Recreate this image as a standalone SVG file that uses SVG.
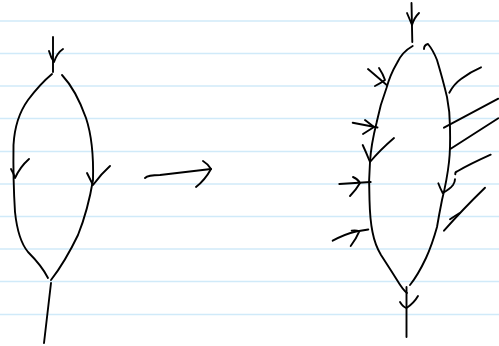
<svg xmlns="http://www.w3.org/2000/svg" width="499" height="346" viewBox="0 0 499 346">
<style>
.rule{stroke:#d0eaf9;stroke-width:1.7}
.ink{fill:none;stroke:#000;stroke-width:1.9;stroke-linecap:round;stroke-linejoin:round}
</style>
<rect width="499" height="346" fill="#fff"/>
<g id="paper">
<line class="rule" x1="0" y1="21" x2="499" y2="21"/>
<line class="rule" x1="0" y1="53.5" x2="499" y2="53.5"/>
<line class="rule" x1="0" y1="86" x2="499" y2="86"/>
<line class="rule" x1="0" y1="118.5" x2="499" y2="118.5"/>
<line class="rule" x1="0" y1="151.5" x2="499" y2="151.5"/>
<line class="rule" x1="0" y1="184" x2="499" y2="184"/>
<line class="rule" x1="0" y1="216.5" x2="499" y2="216.5"/>
<line class="rule" x1="0" y1="249" x2="499" y2="249"/>
<line class="rule" x1="0" y1="281.5" x2="499" y2="281.5"/>
<line class="rule" x1="0" y1="314.5" x2="499" y2="314.5"/>
</g>
<g id="left-figure" class="ink">
<path d="M53,37 L53,72"/>
<path d="M49,51 Q51,58 54,62 Q57,53 63,49"/>
<path d="M52,74 Q40,84 28,100 Q15,118 13.5,145 Q13,180 15,212 Q18,240 28,252 Q42,266 48,278"/>
<path d="M62,75 Q76,90 86,118 Q94,142 93,180 Q88,210 78,235 Q65,262 51,280"/>
<path d="M11,169 Q14,174 15,178 Q20,167 29,159"/>
<path d="M87,173 Q90,179 93,185 Q101,174 110,166"/>
<path d="M51,283 L44,343"/>
</g>
<g id="connectors" class="ink">
<path d="M145,178 Q148,175 160,175 L211,169"/>
<path d="M203,161 Q208,164 211,169 Q205,180 196,187"/>
</g>
<g id="right-figure" class="ink">
<path d="M411.5,3 L412.3,42"/>
<path d="M407,13 Q410,20 412,25 Q414,18 419,13"/>
<path d="M412.7,46 Q402,52 397,63 Q390,75 386.5,88 Q380,105 376.5,123 Q371,145 370,162 Q368.5,180 369.5,200 Q370,220 372.5,232 Q375,245 381,255 Q392,272 397,280 Q403,290 407,293"/>
<path d="M424,49 Q424,45 428,44 Q433,50 437,60 Q443,80 447,97 Q450,112 450,127 Q450.5,150 449,162 Q447,180 442,200 Q439,215 437,227 Q432,245 426,258 Q418,275 410,285"/>
<path d="M406.5,287 L406.5,337"/>
<path d="M400,302 Q403,307 406.5,308 Q414,303 418,296"/>
<path d="M368,69 L386.7,85"/>
<path d="M379,68 Q383,74 385,80 Q381,83 375,86"/>
<path d="M352.7,122.7 L377.5,127.5"/>
<path d="M365,120 L374,127 L363,134"/>
<path d="M362.7,145 Q366,152 370,162 Q380,150 394,138"/>
<path d="M339.3,184 L370.7,182"/>
<path d="M353,177 Q358,179 360,183 Q356,190 350,196"/>
<path d="M332.7,240.7 Q345,234 356,231.5 L368.3,229.5"/>
<path d="M351.7,230.7 Q356,230 359.3,231.3 Q356,239 350.7,246"/>
<path d="M438.3,183.3 Q440,188 442.7,193 Q450,189 453,185 Q455,182 455,179.3"/>
<path d="M449.3,92.7 Q454,84 461,79 Q470,72 481,67.3"/>
<path d="M444,127.7 L498.3,98.7"/>
<path d="M450.7,148.7 L498.3,118.3"/>
<path d="M455.3,174.3 Q455,172 457,171.5 Q470,164 490.7,154.7"/>
<path d="M444,230.7 Q462,210 485,187.7"/>
<path d="M450,219.3 Q455,216 459.3,213.3"/>
</g>
</svg>
